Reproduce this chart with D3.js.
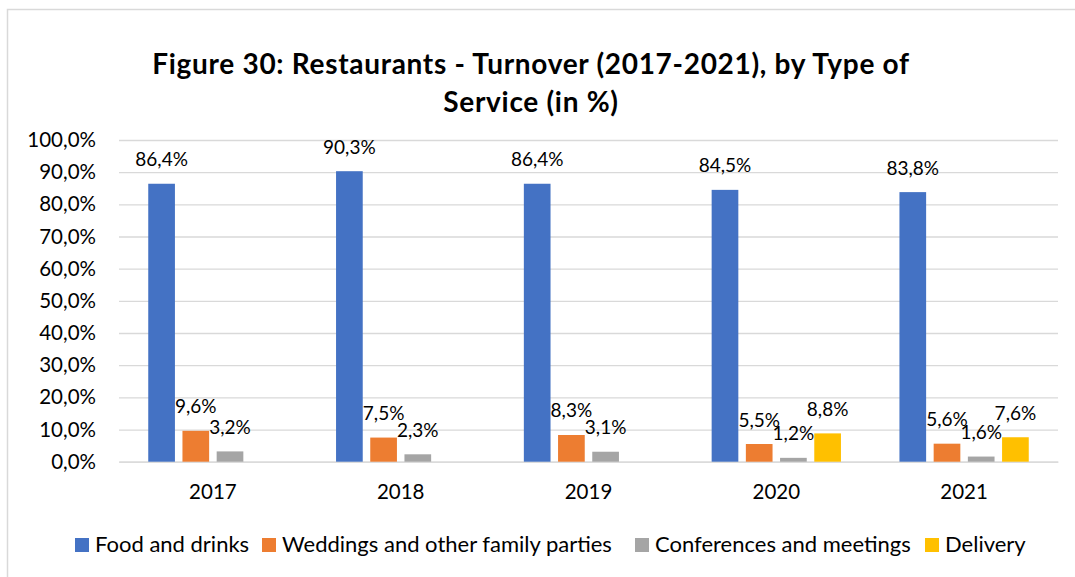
<!DOCTYPE html>
<html>
<head>
<meta charset="utf-8">
<script src="https://cdn.jsdelivr.net/npm/d3@7"></script>
<style>
  html, body { margin: 0; padding: 0; background: #ffffff; }
  svg { display: block; font-family: Lato, "Open Sans", sans-serif; }
</style>
</head>
<body>
<svg id="chart" width="1075" height="577"></svg>
<script>
// Turnover shares by type of service, 2017-2021 (percent)
const years = ["2017", "2018", "2019", "2020", "2021"];
const seriesNames = ["Food and drinks", "Weddings and other family parties", "Conferences and meetings", "Delivery"];
const foodAndDrinks = [86.4, 90.3, 86.4, 84.5, 83.8];
const weddings = [9.6, 7.5, 8.3, 5.5, 5.6];
const conferences = [3.2, 2.3, 3.1, 1.2, 1.6];
const delivery = [null, null, null, 8.8, 7.6];
const seriesColors = ["#4472C4", "#ED7D31", "#A5A5A5", "#FFC000"];
const yTicks = [0, 10, 20, 30, 40, 50, 60, 70, 80, 90, 100];
const titleLines = ["Figure 30: Restaurants - Turnover (2017-2021), by Type of", "Service (in %)"];

const seriesValues = [foodAndDrinks, weddings, conferences, delivery];
const fmt = v => v.toFixed(1).replace(".", ",") + "%";

const svg = d3.select("#chart");

// chart frame
svg.append("rect")
  .attr("x", 7.5).attr("y", 9.5)
  .attr("width", 1100).attr("height", 600)
  .attr("fill", "#ffffff")
  .attr("stroke", "#d9d9d9").attr("stroke-width", 1.5);

const plot = { left: 119, right: 1058, top: 140, bottom: 461.7 };

const x0 = d3.scaleBand().domain(years).range([plot.left, plot.right]).padding(0);
const x1 = d3.scaleBand().domain(seriesNames).range([0, x0.bandwidth()])
  .paddingInner(0.22).paddingOuter(0.855);
const y = d3.scaleLinear().domain([0, 100]).range([plot.bottom, plot.top]);

// title
svg.append("g").selectAll("text")
  .data(titleLines)
  .join("text")
  .attr("x", 531)
  .attr("y", (d, i) => 74 + i * 38)
  .attr("text-anchor", "middle")
  .attr("font-weight", "bold")
  .attr("font-size", 28)
  .attr("letter-spacing", 0.7)
  .attr("fill", "#000")
  .text(d => d);

// gridlines and y axis labels
const yAxis = d3.axisLeft(y)
  .tickValues(yTicks)
  .tickSize(-(plot.right - plot.left))
  .tickPadding(23)
  .tickFormat(d => d.toFixed(1).replace(".", ",") + "%");

const yg = svg.append("g")
  .attr("transform", `translate(${plot.left},0)`)
  .call(yAxis);
yg.select(".domain").remove();
yg.selectAll(".tick line").attr("stroke", "#d9d9d9").attr("stroke-width", 1.3);
yg.selectAll(".tick text")
  .attr("font-size", 20.5)
  .attr("fill", "#000")
  .attr("font-family", "Lato, sans-serif");

// x axis labels
const xAxis = d3.axisBottom(x0).tickSize(0).tickPadding(23);
const xg = svg.append("g")
  .attr("transform", `translate(0,${plot.bottom})`)
  .call(xAxis);
xg.select(".domain").attr("stroke", "#d9d9d9").attr("stroke-width", 1.3);
xg.selectAll(".tick text")
  .attr("font-size", 20.5)
  .attr("fill", "#000")
  .attr("font-family", "Lato, sans-serif");

// bars and value labels
const cells = [];
years.forEach((yr, i) => {
  seriesNames.forEach((s, j) => {
    const v = seriesValues[j][i];
    if (v !== null) cells.push({ year: yr, series: s, color: seriesColors[j], value: v });
  });
});

svg.append("g").selectAll("rect")
  .data(cells)
  .join("rect")
  .attr("x", d => x0(d.year) + x1(d.series))
  .attr("y", d => y(d.value))
  .attr("width", x1.bandwidth())
  .attr("height", d => plot.bottom - y(d.value))
  .attr("fill", d => d.color);

svg.append("g").selectAll("text")
  .data(cells)
  .join("text")
  .attr("x", d => x0(d.year) + x1(d.series) + x1.bandwidth() / 2)
  .attr("y", d => y(d.value) - 17.5)
  .attr("text-anchor", "middle")
  .attr("font-size", 19)
  .attr("fill", "#000")
  .text(d => fmt(d.value));

// legend
const legendX = [75, 262, 635, 925];
const legend = svg.append("g").selectAll("g")
  .data(seriesNames)
  .join("g")
  .attr("transform", (d, i) => `translate(${legendX[i]},538)`);
legend.append("rect")
  .attr("width", 14).attr("height", 14)
  .attr("fill", (d, i) => seriesColors[i]);
legend.append("text")
  .attr("x", 20).attr("y", 14)
  .attr("font-size", 22)
  .attr("fill", "#000")
  .text(d => d);
</script>
</body>
</html>
